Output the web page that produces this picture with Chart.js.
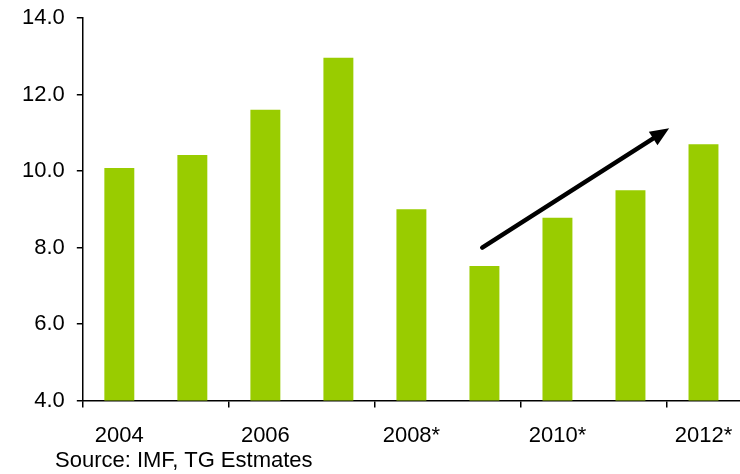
<!DOCTYPE html>
<html>
<head>
<meta charset="utf-8">
<script src="https://cdn.jsdelivr.net/npm/chart.js@4/dist/chart.umd.min.js"></script>
<style>
  html, body { margin: 0; padding: 0; background: #fff; }
  #wrap { position: relative; width: 740px; height: 474px; }
  #source {
    position: absolute; left: 55px; top: 447px;
    font: 22px "Liberation Sans", Arial, sans-serif; color: #000;
  }
</style>
</head>
<body>
<div id="wrap">
  <canvas id="chart" width="740" height="474"></canvas>
  <div id="source">Source: IMF, TG Estmates</div>
</div>
<script>
// ---- Data ----
const years = ['2004', '2005', '2006', '2007', '2008*', '2009*', '2010*', '2011*', '2012*'];
const values = [10.08, 10.42, 11.6, 12.96, 9.0, 7.52, 8.78, 9.5, 10.7];
const yTicks = [4, 6, 8, 10, 12, 14];

// trend arrow, in axis units (category index, value)
const arrowFrom = [4.97, 8.0];
const arrowTo = [7.53, 11.12];

const trendArrow = {
  id: 'trendArrow',
  afterDatasetsDraw(chart) {
    const { ctx, scales: { x, y } } = chart;
    const x1 = x.getPixelForValue(arrowFrom[0]), y1 = y.getPixelForValue(arrowFrom[1]);
    const x2 = x.getPixelForValue(arrowTo[0]), y2 = y.getPixelForValue(arrowTo[1]);
    const ang = Math.atan2(y2 - y1, x2 - x1);
    const headLen = 19, headW = 8;
    const bx = x2 - headLen * Math.cos(ang), by = y2 - headLen * Math.sin(ang);

    ctx.save();
    ctx.strokeStyle = '#000';
    ctx.fillStyle = '#000';
    ctx.lineWidth = 4.5;
    ctx.lineCap = 'round';
    ctx.beginPath();
    ctx.moveTo(x1, y1);
    ctx.lineTo(bx + 3 * Math.cos(ang), by + 3 * Math.sin(ang));
    ctx.stroke();

    ctx.beginPath();
    ctx.moveTo(x2, y2);
    ctx.lineTo(bx + headW * Math.sin(ang), by - headW * Math.cos(ang));
    ctx.lineTo(bx - headW * Math.sin(ang), by + headW * Math.cos(ang));
    ctx.closePath();
    ctx.fill();
    ctx.restore();
  }
};

const font = { family: '"Liberation Sans", Arial, sans-serif', size: 22 };

new Chart(document.getElementById('chart').getContext('2d'), {
  type: 'bar',
  data: {
    labels: years,
    datasets: [{
      data: values,
      backgroundColor: '#99cc00',
      borderWidth: 0,
      categoryPercentage: 1,
      barPercentage: 0.41
    }]
  },
  options: {
    responsive: false,
    animation: false,
    layout: { padding: { left: 10, top: 18, right: 0, bottom: 10 } },
    plugins: {
      legend: { display: false },
      tooltip: { enabled: false }
    },
    scales: {
      x: {
        offset: true,
        // let the last category run to the canvas edge
        afterFit: (s) => { s.paddingRight = 0; },
        border: { color: '#000', width: 1.5 },
        grid: {
          offset: true,
          drawOnChartArea: false,
          tickLength: 7,
          lineWidth: 1.5,
          color: (c) => (c.index % 2 === 0 ? '#000' : 'rgba(0,0,0,0)')
        },
        ticks: {
          autoSkip: false,
          maxRotation: 0,
          padding: 15,
          color: '#000',
          font: font,
          callback: (v, i) => (i % 2 === 0 ? years[i] : '')
        }
      },
      y: {
        min: yTicks[0],
        max: yTicks[yTicks.length - 1],
        afterFit: (s) => { s.paddingTop = 0; },
        border: { color: '#000', width: 1.5 },
        grid: {
          drawOnChartArea: false,
          tickLength: 6,
          lineWidth: 1.5,
          color: '#000'
        },
        afterBuildTicks: (axis) => { axis.ticks = yTicks.map(v => ({ value: v })); },
        ticks: {
          padding: 12,
          color: '#000',
          font: font,
          callback: (v) => Number(v).toFixed(1)
        }
      }
    }
  },
  plugins: [trendArrow]
});
</script>
</body>
</html>
